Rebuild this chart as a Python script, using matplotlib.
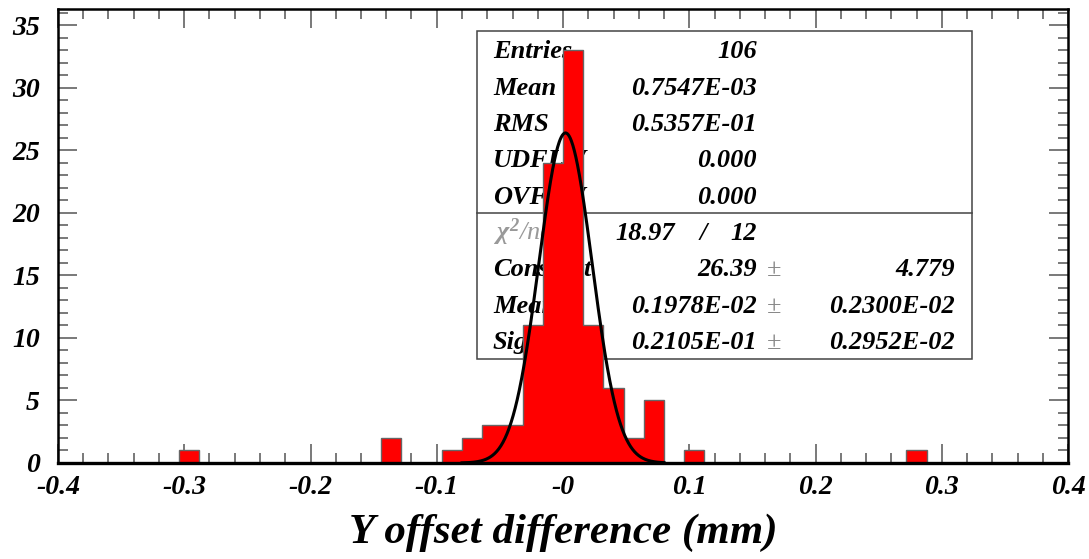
import numpy as np
import matplotlib
matplotlib.use("Agg")
import matplotlib.pyplot as plt
import matplotlib.ticker as mpltick
from matplotlib.patches import Rectangle

# Histogram data (bins of 0.016 from -0.4 to 0.4, only non-empty bins listed)
x_range = (-0.4, 0.4)
n_bins = 50
bin_centers = [-0.296, -0.136, -0.088, -0.072, -0.056, -0.040, -0.024, -0.008,
               0.008, 0.024, 0.040, 0.056, 0.072, 0.104, 0.280]
bin_counts = [1, 2, 1, 2, 3, 3, 11, 24, 33, 11, 6, 2, 5, 1, 1]

# Gaussian fit parameters
fit_const = 26.39
fit_mean = 0.1978e-02
fit_sigma = 0.2105e-01
fit_range = (-0.08, 0.08)

# Stats box contents
stat_labels = ["Entries", "Mean", "RMS", "UDFLW", "OVFLW"]
stat_values = ["106", "0.7547E-03", "0.5357E-01", "0.000", "0.000"]
chi2_text = ("18.97", "12")
fit_labels = ["Constant", "Mean", "Sigma"]
fit_values = ["26.39", "0.1978E-02", "0.2105E-01"]
fit_errors = ["4.779", "0.2300E-02", "0.2952E-02"]

xtick_vals = [-0.4, -0.3, -0.2, -0.1, 0.0, 0.1, 0.2, 0.3, 0.4]
xtick_labels = ["-0.4", "-0.3", "-0.2", "-0.1", "-0", "0.1", "0.2", "0.3", "0.4"]

plt.rcParams["font.family"] = "serif"
plt.rcParams["font.serif"] = ["Liberation Serif", "DejaVu Serif"]
plt.rcParams["font.weight"] = "bold"
plt.rcParams["font.style"] = "italic"
plt.rcParams["mathtext.fontset"] = "custom"
plt.rcParams["mathtext.it"] = "Liberation Serif:italic"
plt.rcParams["mathtext.rm"] = "Liberation Serif"

W, H = 1089, 559
fig = plt.figure(figsize=(W / 100, H / 100), dpi=100)
ax = fig.add_axes([58 / W, 1 - 463 / H, (1068 - 58) / W, (463 - 9) / H])

edges = np.linspace(x_range[0], x_range[1], n_bins + 1)
ax.hist(bin_centers, bins=edges, weights=bin_counts, histtype="stepfilled",
        facecolor="#ff0000", edgecolor="#666666", linewidth=1.0, zorder=2)

xf = np.linspace(fit_range[0], fit_range[1], 400)
ax.plot(xf, fit_const * np.exp(-0.5 * ((xf - fit_mean) / fit_sigma) ** 2),
        color="black", lw=2.2, zorder=3)

ax.set_xlim(*x_range)
ax.set_ylim(0, 1.1 * max(bin_counts))

# PAW-like axis style
for sp in ax.spines.values():
    sp.set_linewidth(1.8)
ax.spines["bottom"].set_linewidth(2.4)
ax.xaxis.set_major_locator(mpltick.FixedLocator(xtick_vals))
ax.xaxis.set_minor_locator(mpltick.MultipleLocator(0.02))
ax.yaxis.set_major_locator(mpltick.MultipleLocator(5))
ax.yaxis.set_minor_locator(mpltick.MultipleLocator(1))
ax.set_xticklabels(xtick_labels)
ax.tick_params(which="both", direction="in", top=True, right=True,
               color="#555555", width=1.1, labelsize=20)
ax.tick_params(which="major", length=14)
ax.tick_params(which="minor", length=7)
ax.tick_params(axis="x", pad=9)
ax.tick_params(axis="y", pad=13)

# Stats box (drawn under the histogram)
tf = fig.transFigure


def fx(px):
    return px / W


def fy(py):
    return 1 - py / H


ax.add_patch(Rectangle((fx(477), fy(359)), fx(972) - fx(477), fy(31) - fy(359),
                       transform=tf, facecolor="white", edgecolor="#444444",
                       lw=1.1, zorder=1, clip_on=False))
ax.plot([fx(477), fx(972)], [fy(213), fy(213)], transform=tf, color="#444444",
        lw=1.1, zorder=1, clip_on=False)

fs = 19
txt = dict(transform=tf, fontsize=fs, va="baseline", zorder=1, clip_on=False)
row0, pitch = 58.5, 36.3
for i, (lab, val) in enumerate(zip(stat_labels, stat_values)):
    y = fy(row0 + i * pitch)
    ax.text(fx(493), y, lab, ha="left", **txt)
    ax.text(fx(757), y, val, ha="right", **txt)

y = fy(row0 + 5 * pitch)
ax.text(fx(493), y, r"$\chi^{2}$/ndf", ha="left", color="#999999",
        fontweight="normal", **txt)
ax.text(fx(675), y, chi2_text[0], ha="right", **txt)
ax.text(fx(703), y, "/", ha="center", **txt)
ax.text(fx(757), y, chi2_text[1], ha="right", **txt)

for i, (lab, val, err) in enumerate(zip(fit_labels, fit_values, fit_errors)):
    y = fy(row0 + (6 + i) * pitch)
    ax.text(fx(493), y, lab, ha="left", **txt)
    ax.text(fx(757), y, val, ha="right", **txt)
    ax.text(fx(774), y, "\u00b1", ha="center", color="#888888",
            fontweight="normal", fontstyle="normal", **txt)
    ax.text(fx(955), y, err, ha="right", **txt)

fig.text(563.5 / W, 1 - 543 / H, "Y offset difference (mm)", ha="center",
         va="baseline", fontsize=31)

fig.savefig("out.png", dpi=100)
